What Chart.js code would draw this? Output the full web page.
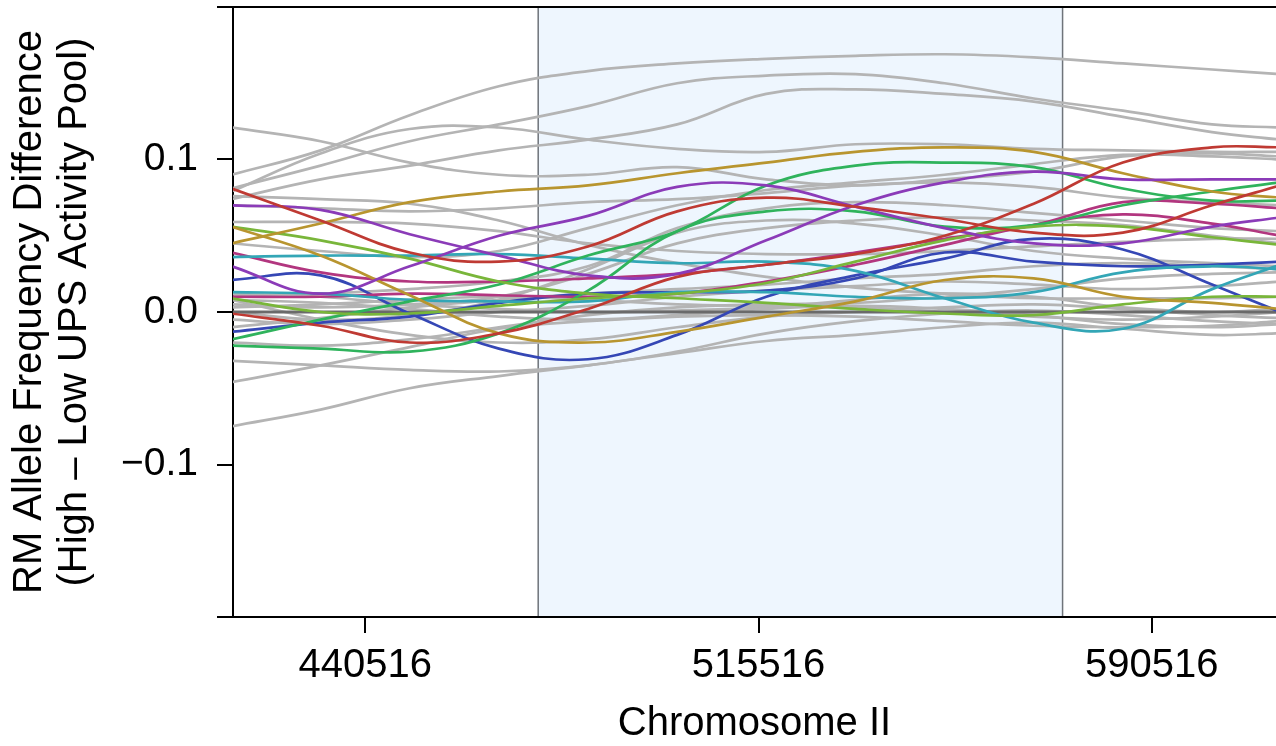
<!DOCTYPE html>
<html>
<head>
<meta charset="utf-8">
<script src="https://cdn.jsdelivr.net/npm/chart.js@4.4.1/dist/chart.umd.min.js"></script>
<style>
  html, body { margin: 0; padding: 0; background: #fff; }
</style>
</head>
<body>
<canvas id="chart1" width="1276" height="746"></canvas>
<script>
var positions = [415000, 432000, 449000, 466000, 483000, 500000, 517000, 534000, 551000, 568000, 585000, 602000, 615000];
var xTicks = [440516, 515516, 590516];
var yTicks = [-0.2, -0.1, 0, 0.1, 0.2];
var xMin = 415300, xMax = 614200;
var intervalStart = 473500, intervalEnd = 573500; // shaded QTL interval

// coloured replicate pairs
var red1 = [0.081, 0.060, 0.039, 0.033, 0.043, 0.066, 0.075, 0.069, 0.061, 0.052, 0.052, 0.070, 0.083];
var red2 = [-0.001, -0.009, -0.020, -0.014, 0.002, 0.023, 0.031, 0.038, 0.050, 0.071, 0.098, 0.108, 0.108];
var purple1 = [0.070, 0.067, 0.051, 0.037, 0.024, 0.025, 0.047, 0.070, 0.085, 0.092, 0.087, 0.087, 0.087];
var purple2 = [0.030, 0.012, 0.030, 0.050, 0.063, 0.082, 0.083, 0.069, 0.055, 0.045, 0.045, 0.056, 0.062];
var gold1 = [0.045, 0.058, 0.072, 0.079, 0.083, 0.091, 0.098, 0.105, 0.108, 0.105, 0.091, 0.079, 0.075];
var gold2 = [0.056, 0.037, 0.011, -0.014, -0.020, -0.013, -0.003, 0.007, 0.021, 0.022, 0.010, 0.006, 0.002];
var lime1 = [0.056, 0.047, 0.035, 0.020, 0.012, 0.009, 0.006, 0.002, -0.001, -0.002, 0.005, 0.010, 0.010];
var lime2 = [0.009, 0.000, -0.001, 0.004, 0.009, 0.012, 0.019, 0.033, 0.047, 0.056, 0.056, 0.049, 0.044];
var green1 = [-0.018, -0.005, 0.007, 0.018, 0.037, 0.053, 0.083, 0.096, 0.098, 0.095, 0.081, 0.073, 0.073];
var green2 = [-0.022, -0.024, -0.026, -0.014, 0.014, 0.053, 0.066, 0.066, 0.056, 0.057, 0.070, 0.079, 0.085];
var teal1 = [0.036, 0.037, 0.037, 0.038, 0.035, 0.032, 0.033, 0.027, 0.009, -0.007, -0.011, 0.015, 0.031];
var teal2 = [0.013, 0.012, 0.008, 0.007, 0.007, 0.013, 0.013, 0.010, 0.009, 0.013, 0.026, 0.030, 0.028];
var magenta1 = [0.039, 0.026, 0.020, 0.020, 0.022, 0.025, 0.031, 0.039, 0.048, 0.057, 0.072, 0.071, 0.068];
var magenta2 = [0.010, 0.010, 0.012, 0.011, 0.010, 0.012, 0.020, 0.031, 0.044, 0.057, 0.064, 0.058, 0.050];
var blue1 = [0.021, 0.024, -0.001, -0.024, -0.031, -0.015, 0.010, 0.024, 0.035, 0.048, 0.041, 0.018, 0.000];
var blue2 = [-0.013, -0.007, -0.003, 0.006, 0.012, 0.013, 0.014, 0.022, 0.039, 0.033, 0.030, 0.031, 0.033];

// grey background tracks
var grayTracks = [
  [0.090, 0.106, 0.129, 0.148, 0.158, 0.163, 0.166, 0.168, 0.169, 0.167, 0.163, 0.159, 0.156],
  [0.081, 0.096, 0.112, 0.123, 0.135, 0.150, 0.155, 0.156, 0.150, 0.140, 0.132, 0.123, 0.121],
  [0.074, 0.087, 0.096, 0.106, 0.113, 0.123, 0.143, 0.146, 0.143, 0.138, 0.128, 0.118, 0.113],
  [0.079, 0.104, 0.120, 0.121, 0.113, 0.107, 0.105, 0.110, 0.110, 0.107, 0.106, 0.105, 0.105],
  [0.121, 0.112, 0.098, 0.090, 0.090, 0.095, 0.087, 0.083, 0.087, 0.092, 0.102, 0.104, 0.102],
  [0.059, 0.059, 0.058, 0.053, 0.045, 0.040, 0.038, 0.038, 0.040, 0.043, 0.046, 0.048, 0.048],
  [0.076, 0.074, 0.071, 0.060, 0.044, 0.032, 0.023, 0.016, 0.012, 0.009, 0.009, 0.009, 0.010],
  [0.045, 0.040, 0.036, 0.040, 0.055, 0.070, 0.080, 0.085, 0.090, 0.097, 0.103, 0.102, 0.100],
  [0.070, 0.068, 0.066, 0.068, 0.072, 0.074, 0.078, 0.083, 0.085, 0.082, 0.075, 0.072, 0.070],
  [0.010, 0.012, 0.015, 0.020, 0.030, 0.055, 0.068, 0.072, 0.070, 0.065, 0.060, 0.055, 0.053],
  [0.005, 0.003, 0.005, 0.010, 0.025, 0.045, 0.055, 0.060, 0.062, 0.060, 0.057, 0.050, 0.045],
  [0.000, -0.005, -0.002, 0.008, 0.028, 0.052, 0.060, 0.058, 0.050, 0.040, 0.035, 0.032, 0.030],
  [0.003, 0.005, 0.008, 0.010, 0.008, 0.005, 0.004, 0.003, 0.000, -0.003, -0.005, -0.003, 0.000],
  [-0.005, -0.008, -0.005, 0.000, 0.004, 0.010, 0.014, 0.017, 0.020, 0.018, 0.015, 0.017, 0.020],
  [0.008, 0.006, 0.002, -0.003, -0.005, -0.002, 0.002, 0.004, 0.002, -0.002, -0.008, -0.010, -0.008],
  [-0.010, -0.004, 0.003, 0.008, 0.012, 0.015, 0.018, 0.022, 0.025, 0.030, 0.032, 0.030, 0.028],
  [0.012, 0.010, 0.005, 0.002, 0.000, 0.001, 0.003, 0.008, 0.012, 0.010, 0.003, 0.000, 0.002],
  [-0.075, -0.064, -0.050, -0.042, -0.035, -0.027, -0.019, -0.015, -0.010, -0.007, -0.011, -0.015, -0.014],
  [-0.032, -0.035, -0.038, -0.039, -0.035, -0.026, -0.014, -0.006, -0.001, 0.001, -0.002, -0.006, -0.008],
  [-0.046, -0.035, -0.023, -0.011, -0.006, -0.003, -0.002, -0.003, -0.006, -0.009, -0.010, -0.009, -0.006],
  [0.008, -0.005, -0.015, -0.020, -0.018, -0.010, -0.003, 0.000, 0.003, 0.005, 0.002, -0.002, -0.004],
  [-0.020, -0.022, -0.018, -0.010, -0.002, 0.003, 0.005, 0.006, 0.010, 0.015, 0.022, 0.025, 0.026]
];

var colouredTracks = [red1, red2, purple1, purple2, gold1, gold2, lime1, lime2,
                      green1, green2, teal1, teal2, magenta1, magenta2, blue1, blue2];
var trackColours = ['#BF3A33', '#BF3A33', '#8B3BB8', '#8B3BB8', '#B8952F', '#B8952F', '#79B63A', '#79B63A',
                    '#2FB35C', '#2FB35C', '#33A6B6', '#33A6B6', '#B2367F', '#B2367F', '#3547B5', '#3547B5'];

var FONT = "'Liberation Sans', Arial, sans-serif";

function toPoints(vals) {
  return vals.map(function (v, i) { return { x: positions[i], y: v }; });
}

var datasets = [];
// grey first, drawn at the back
grayTracks.forEach(function (t) {
  datasets.push({ data: toPoints(t), borderColor: '#B4B4B4', borderWidth: 2.7, order: 3 });
});
// zero reference line
datasets.push({ data: [{ x: xMin - 5000, y: 0 }, { x: xMax + 5000, y: 0 }], borderColor: '#6A6A6A', borderWidth: 3, order: 2, tension: 0 });
colouredTracks.forEach(function (t, i) {
  datasets.push({ data: toPoints(t), borderColor: trackColours[i], borderWidth: 2.7, order: 1 });
});

// shaded interval with its two borders, behind everything
var intervalPlugin = {
  id: 'interval',
  beforeDraw: function (chart) {
    var ctx = chart.ctx, area = chart.chartArea, xs = chart.scales.x;
    var x0 = xs.getPixelForValue(intervalStart), x1 = xs.getPixelForValue(intervalEnd);
    ctx.save();
    ctx.fillStyle = '#EEF6FE';
    ctx.fillRect(x0, area.top, x1 - x0, area.bottom - area.top);
    ctx.strokeStyle = '#6F747A';
    ctx.lineWidth = 1.5;
    ctx.beginPath();
    ctx.moveTo(x0, area.top); ctx.lineTo(x0, area.bottom);
    ctx.moveTo(x1, area.top); ctx.lineTo(x1, area.bottom);
    ctx.stroke();
    ctx.restore();
  }
};

new Chart(document.getElementById('chart1'), {
  type: 'line',
  data: { datasets: datasets },
  plugins: [intervalPlugin],
  options: {
    responsive: false,
    animation: false,
    devicePixelRatio: 1,
    layout: { padding: { top: 7, right: 0, bottom: 0, left: 0 } },
    elements: { point: { radius: 0 }, line: { tension: 0.4 } },
    datasets: { line: { clip: 0 } },
    plugins: { legend: { display: false }, tooltip: { enabled: false } },
    scales: {
      x: {
        type: 'linear', min: xMin, max: xMax,
        afterBuildTicks: function (s) { s.ticks = xTicks.map(function (v) { return { value: v }; }); },
        afterFit: function (s) { s.height = 129; s.paddingLeft = 0; s.paddingRight = 0; },
        border: { display: true, color: '#000', width: 2 },
        grid: { drawOnChartArea: false, color: '#000', tickColor: '#000', tickLength: 16, lineWidth: 2 },
        ticks: { color: '#000', padding: 9, maxRotation: 0, autoSkip: false, font: { family: FONT, size: 40 },
                 callback: function (v) { return String(v); } },
        title: { display: true, text: 'Chromosome II', color: '#000', font: { family: FONT, size: 40, lineHeight: 1.1 },
                 padding: { top: 0, bottom: 0 } }
      },
      y: {
        min: -0.2, max: 0.2,
        afterBuildTicks: function (s) { s.ticks = yTicks.map(function (v) { return { value: v }; }); },
        afterFit: function (s) { s.width = 233; s.paddingTop = 0; s.paddingBottom = 0; },
        border: { display: true, color: '#000', width: 2 },
        grid: {
          drawOnChartArea: true, tickLength: 16, lineWidth: 2, tickColor: '#000',
          color: function (c) { return (c.tick && Math.abs(c.tick.value - 0.2) < 1e-9) ? '#000' : 'rgba(0,0,0,0)'; }
        },
        ticks: { color: '#000', padding: 19, autoSkip: false, font: { family: FONT, size: 39 },
                 callback: function (v) {
                   var r = Math.round(v * 10) / 10;
                   if (Math.abs(r) > 0.15) return '';
                   return (r < 0 ? '\u2212' : '') + Math.abs(r).toFixed(1);
                 } },
        title: { display: true, text: ['RM Allele Frequency Difference', '(High \u2013 Low UPS Activity Pool)'],
                 color: '#000', font: { family: FONT, size: 40, lineHeight: 1.12 }, padding: { top: 8, bottom: 0 } }
      }
    }
  }
});
</script>
</body>
</html>
